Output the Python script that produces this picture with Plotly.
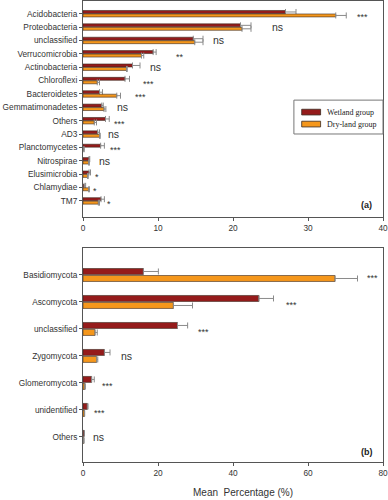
import plotly.graph_objects as go

# ---------------- data ----------------
bact_taxa = ["Acidobacteria", "Proteobacteria", "unclassified", "Verrucomicrobia",
             "Actinobacteria", "Chloroflexi", "Bacteroidetes", "Gemmatimonadetes",
             "Others", "AD3", "Planctomycetes", "Nitrospirae", "Elusimicrobia",
             "Chlamydiae", "TM7"]
bact_wet = [27.0, 21.0, 14.7, 9.35, 6.6, 5.6, 2.2, 2.5, 3.0, 1.95, 2.35, 0.8, 0.8, 0.15, 2.4]
bact_wet_err = [1.4, 1.4, 1.3, 0.4, 1.0, 0.6, 0.4, 0.2, 0.5, 0.25, 0.5, 0.1, 0.2, 0.2, 0.45]
bact_dry = [33.7, 21.2, 14.9, 7.8, 5.8, 1.9, 4.5, 2.8, 1.5, 2.2, 0.1, 0.75, 0.6, 0.75, 2.05]
bact_dry_err = [1.4, 1.2, 1.1, 0.3, 0.1, 0.3, 0.5, 0.25, 0.3, 0.1, 0.05, 0.1, 0.1, 0.1, 0.15]
bact_sig = ["***", "ns", "ns", "**", "ns", "***", "***", "ns", "***", "ns", "***", "ns", "*", "*", "*"]
bact_sig_x = [37.3, 25.9, 18.0, 12.9, 9.6, 8.7, 7.6, 5.3, 4.9, 4.0, 4.3, 2.9, 1.9, 1.6, 3.5]

fung_taxa = ["Basidiomycota", "Ascomycota", "unclassified", "Zygomycota",
             "Glomeromycota", "unidentified", "Others"]
fung_wet = [16.1, 46.9, 25.2, 5.7, 2.3, 1.15, 0.3]
fung_wet_err = [4.0, 3.9, 2.7, 1.5, 0.7, 0.2, 0.1]
fung_dry = [67.2, 24.1, 3.2, 3.65, 0.5, 0.4, 0.2]
fung_dry_err = [6.0, 5.1, 0.6, 0.3, 0.1, 0.05, 0.05]
fung_sig = ["***", "***", "***", "ns", "***", "***", "ns"]
fung_sig_x = [77.3, 55.6, 32.0, 11.5, 6.6, 4.35, 4.0]

group_names = ["Wetland group", "Dry-land group"]
bact_ticks = [0, 10, 20, 30, 40]
fung_ticks = [0, 20, 40, 60, 80]

# ---------------- styles ----------------
RED = "#951b1b"
ORANGE = "#f5971c"
OUT = "#3a2a20"
ERR = "#8a8a8a"
AX = "#555555"
SANS = "Liberation Sans, Arial, sans-serif"
SERIF = "Liberation Serif, Times New Roman, serif"

fig = go.Figure()

def add_panel(taxa, wet, wet_err, dry, dry_err, xa, ya):
    idx = list(range(len(taxa)))
    fig.add_trace(go.Bar(
        y=idx, x=wet, orientation="h", name=group_names[0],
        marker=dict(color=RED, line=dict(color=OUT, width=0.6)),
        error_x=dict(type="data", symmetric=False, array=wet_err,
                     arrayminus=[0] * len(wet), color=ERR, thickness=1, width=3),
        xaxis=xa, yaxis=ya, showlegend=False))
    fig.add_trace(go.Bar(
        y=idx, x=dry, orientation="h", name=group_names[1],
        marker=dict(color=ORANGE, line=dict(color=OUT, width=0.6)),
        error_x=dict(type="data", symmetric=False, array=dry_err,
                     arrayminus=[0] * len(dry), color=ERR, thickness=1, width=3),
        xaxis=xa, yaxis=ya, showlegend=False))

add_panel(bact_taxa, bact_wet, bact_wet_err, bact_dry, bact_dry_err, "x", "y")
add_panel(fung_taxa, fung_wet, fung_wet_err, fung_dry, fung_dry_err, "x2", "y2")

annotations = []
def add_sig(sigs, xs, xref, yref):
    for i, (s, x) in enumerate(zip(sigs, xs)):
        is_ns = s == "ns"
        annotations.append(dict(
            x=x, y=i, xref=xref, yref=yref, text=s, showarrow=False,
            xanchor="center", yanchor="middle",
            yshift=0 if is_ns else -3,
            font=dict(family=SANS, size=10.5 if is_ns else 9, color="#333333")))

add_sig(bact_sig, bact_sig_x, "x", "y")
add_sig(fung_sig, fung_sig_x, "x2", "y2")

annotations.append(dict(x=0.945, y=0.557, xref="paper", yref="paper", text="<b>(a)</b>",
                        showarrow=False, xanchor="center", yanchor="middle",
                        font=dict(family=SANS, size=9, color="#222222")))
annotations.append(dict(x=0.945, y=0.022, xref="paper", yref="paper", text="<b>(b)</b>",
                        showarrow=False, xanchor="center", yanchor="middle",
                        font=dict(family=SANS, size=9, color="#222222")))
annotations.append(dict(x=0.533, y=-0.067, xref="paper", yref="paper",
                        text="Mean\u00a0 Percentage (%)", showarrow=False,
                        xanchor="center", yanchor="middle",
                        font=dict(family=SANS, size=10, color="#333333")))

# manual legend (box + swatches + labels)
shapes = [dict(type="rect", xref="paper", yref="paper", x0=0.703, x1=1.0,
               y0=0.7115, y1=0.785, line=dict(color="#777777", width=1),
               fillcolor="white", layer="above")]
for k, (col, yc) in enumerate([(RED, 0.759), (ORANGE, 0.733)]):
    shapes.append(dict(type="rect", xref="paper", yref="paper", x0=0.729, x1=0.792,
                       y0=yc - 0.0062, y1=yc + 0.0062, line=dict(color=OUT, width=0.8),
                       fillcolor=col, layer="above"))
    annotations.append(dict(x=0.807, y=yc, xref="paper", yref="paper", text=group_names[k],
                            showarrow=False, xanchor="left", yanchor="middle",
                            font=dict(family=SERIF, size=8, color="#222222")))

axis_common = dict(showline=True, linecolor=AX, linewidth=1, mirror=True,
                   showgrid=False, zeroline=False, ticks="outside", ticklen=3,
                   tickcolor=AX, automargin=False,
                   tickfont=dict(family=SANS, size=8.3, color="#333333"))

fig.update_layout(
    width=388, height=500,
    margin=dict(l=83, r=5, t=1, b=38, autoexpand=False),
    paper_bgcolor="white", plot_bgcolor="white",
    barmode="group", bargap=0.48, bargroupgap=0.15,
    showlegend=False,
    xaxis=dict(domain=[0, 1], anchor="y", range=[0, 40], tickvals=bact_ticks, **axis_common),
    yaxis=dict(domain=[0.5315, 1], anchor="x", range=[15.2, -0.95],
               tickvals=list(range(len(bact_taxa))), ticktext=bact_taxa, **axis_common),
    xaxis2=dict(domain=[0, 1], anchor="y2", range=[0, 80], tickvals=fung_ticks, **axis_common),
    yaxis2=dict(domain=[0, 0.4642], anchor="x2", range=[6.93, -1.0],
                tickvals=list(range(len(fung_taxa))), ticktext=fung_taxa, **axis_common),
    annotations=annotations,
    shapes=shapes,
)

fig.write_html("out.html", config={"displayModeBar": False},
               post_script="document.body.style.margin='0';document.body.style.padding='0';")
